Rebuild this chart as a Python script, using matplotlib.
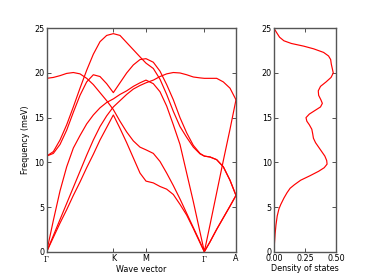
import matplotlib
matplotlib.use("Agg")
import matplotlib.pyplot as plt
import numpy as np

plt.rcParams['mathtext.fontset'] = 'cm'
plt.rcParams['font.family'] = ['DejaVu Sans']

# ---- data -------------------------------------------------------------
# wave-vector positions along path (Gamma-K-M-Gamma-A)
q = [0.0, 0.1, 0.2, 0.3, 0.4, 0.5, 0.6, 0.7, 0.8, 0.9, 1.0,           # G-K
     1.1, 1.2, 1.3, 1.4, 1.49,                                          # K-M
     1.60, 1.70, 1.80, 1.90, 2.00, 2.10, 2.20, 2.30, 2.365,            # M-G
     2.45, 2.55, 2.65, 2.75, 2.84]                                      # G-A

band_a = [0, 1.6, 3.2, 4.7, 6.3, 7.8, 9.4, 10.9, 12.5, 13.9, 15.3,
          13.8, 12.2, 10.5, 8.8, 7.9,
          7.7, 7.3, 7.0, 6.4, 5.3, 4.1, 2.6, 1.0, 0,
          1.1, 2.5, 3.8, 5.1, 6.3]
band_b = [0, 1.8, 3.6, 5.4, 7.2, 9.0, 10.8, 12.5, 14.0, 15.2, 16.2,
          16.9, 17.6, 18.2, 18.6, 18.9,
          19.2, 19.6, 19.9, 20.05, 20.0, 19.8, 19.55, 19.45, 19.4,
          19.4, 19.4, 19.0, 18.3, 17.0]
band_c = [0, 3.5, 6.8, 9.5, 11.6, 13.0, 14.3, 15.3, 16.1, 16.7, 17.1,
          17.6, 18.0, 18.5, 18.9, 19.2,
          18.8, 17.9, 16.3, 14.2, 12.0, 8.8, 5.6, 2.2, 0,
          3.0, 6.6, 10.2, 13.7, 17.0]
band_d = [10.7, 11.2, 12.5, 14.2, 16.2, 18.3, 20.3, 22.1, 23.5, 24.2, 24.4,
          24.2, 23.4, 22.6, 21.8, 21.1,
          20.5, 19.3, 17.6, 15.7, 14.0, 12.8, 11.7, 10.95, 10.7,
          10.6, 10.3, 9.5, 8.0, 6.3]
band_e = [10.7, 11.0, 12.0, 13.6, 15.6, 17.5, 19.0, 19.8, 19.6, 18.8, 17.8,
          18.9, 20.0, 20.9, 21.5, 21.6,
          21.2, 20.2, 18.7, 17.0, 15.0, 13.3, 11.9, 11.0, 10.7,
          10.6, 10.3, 9.5, 8.0, 6.3]
band_f = [19.4, 19.5, 19.7, 19.95, 20.05, 19.9, 19.4, 18.7, 17.8, 16.9, 15.9,
          14.6, 13.4, 12.4, 11.7, 11.4,
          11.0, 10.1, 8.8, 7.4, 5.9, 4.3, 2.7, 1.1, 0,
          1.1, 2.5, 3.8, 5.1, 6.3]

point_pos = [0.0, 1.0, 1.49, 2.365, 2.84]
point_names = [r'$\Gamma$', 'K', 'M', r'$\Gamma$', 'A']

dos_energy = [0, 1.0, 2.0, 3.0, 4.0, 4.8, 5.3, 6.0, 6.6, 7.1, 7.5, 8.0, 8.5,
              9.0, 9.4, 9.8, 10.2, 10.7, 11.2, 11.7, 12.2, 12.7, 13.2, 13.7,
              14.2, 14.6, 15.0, 15.4, 15.8, 16.2, 16.6, 17.0, 17.5, 18.0,
              18.5, 19.0, 19.5, 20.0, 20.5, 21.0, 21.5, 21.9, 22.3, 22.7,
              23.0, 23.3, 23.6, 24.0, 24.5, 25.0]
dos_value = [0, 0.004, 0.009, 0.016, 0.026, 0.040, 0.055, 0.080, 0.105, 0.130,
             0.165, 0.215, 0.290, 0.360, 0.405, 0.428, 0.425, 0.410, 0.385,
             0.360, 0.335, 0.318, 0.312, 0.305, 0.285, 0.265, 0.258, 0.285,
             0.330, 0.375, 0.390, 0.378, 0.360, 0.357, 0.375, 0.420, 0.460,
             0.478, 0.470, 0.462, 0.457, 0.440, 0.400, 0.320, 0.240, 0.140,
             0.080, 0.045, 0.022, 0.0]

# ---- figure -----------------------------------------------------------
fs = 5.8
fig = plt.figure(figsize=(3.74, 2.80), dpi=100)
ax = fig.add_axes([0.1248, 0.101, 0.631 - 0.1248, 0.798])
ax2 = fig.add_axes([0.7326, 0.101, 0.8984 - 0.7326, 0.798])

red = '#ff0000'
for band in (band_a, band_b, band_c, band_d, band_e, band_f):
    ax.plot(q, band, color=red, lw=0.85)

ax.set_xlim(point_pos[0], point_pos[-1])
ax.set_ylim(0, 25)
ax.set_xticks(point_pos)
ax.set_xticklabels(point_names)
ax.set_yticks([0, 5, 10, 15, 20, 25])
ax.set_xlabel('Wave vector', fontsize=fs, labelpad=1)
ax.set_ylabel('Frequency (meV)', fontsize=fs, labelpad=3)

ax2.plot(dos_value, dos_energy, color=red, lw=0.85)
ax2.set_xlim(0, 0.5)
ax2.set_ylim(0, 25)
ax2.set_xticks([0.0, 0.25, 0.5])
ax2.set_xticklabels(['0.00', '0.25', '0.50'])
ax2.set_yticks([0, 5, 10, 15, 20, 25])
ax2.set_xlabel('Density of states', fontsize=fs, labelpad=1)

for a in (ax, ax2):
    a.tick_params(direction='in', length=3, width=0.6, labelsize=fs,
                  top=True, right=True, pad=1.5, color='#333333')
    for s in a.spines.values():
        s.set_color('#555555')
        s.set_linewidth(1.0)

fig.savefig('out.png', dpi=100)
